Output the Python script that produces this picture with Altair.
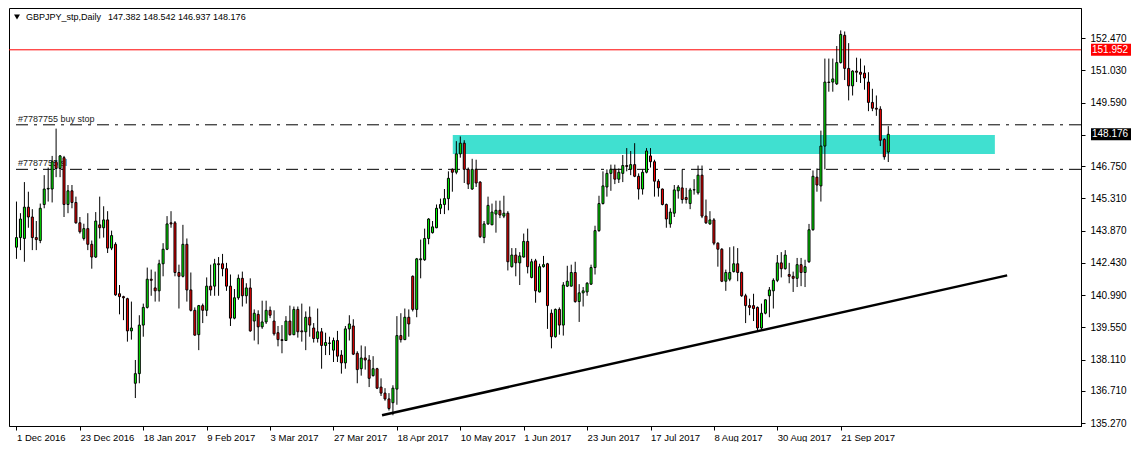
import json
import altair as alt
import pandas as pd

symbol = "GBPJPY_stp,Daily"
date_labels = ["1 Dec 2016", "23 Dec 2016", "18 Jan 2017", "9 Feb 2017", "3 Mar 2017",
               "27 Mar 2017", "18 Apr 2017", "10 May 2017", "1 Jun 2017", "23 Jun 2017",
               "17 Jul 2017", "8 Aug 2017", "30 Aug 2017", "21 Sep 2017"]
label_step = 16
price_ticks = [152.47, 151.03, 149.59, 148.15, 146.75, 145.31, 143.87, 142.43,
               140.99, 139.55, 138.11, 136.71, 135.27]

opens = [
    143.13, 143.56, 143.52, 144.92, 144.48, 143.56, 143.43, 145.04, 145.73, 145.73,
    146.95, 146.65, 147.13, 145.04, 145.65, 145.13, 144.22, 143.52, 143.96, 143.26,
    142.69, 144.13, 144.00, 144.35, 143.09, 143.26, 141.05, 140.92, 140.83, 139.39,
    137.05, 137.48, 139.65, 140.44, 141.70, 141.31, 141.18, 142.39, 143.04, 144.22,
    144.22, 142.00, 141.83, 143.26, 141.22, 140.31, 139.22, 140.52, 140.31, 141.39,
    141.39, 142.39, 142.39, 142.17, 141.39, 139.96, 140.87, 141.74, 140.96, 141.31,
    139.83, 140.13, 139.57, 139.79, 140.31, 139.83, 139.31, 139.00, 138.96, 139.83,
    139.22, 140.35, 139.39, 139.35, 140.00, 139.52, 139.05, 139.35, 138.74, 138.83,
    138.53, 138.96, 138.31, 137.96, 139.48, 139.61, 138.39, 137.70, 138.18, 138.09,
    137.39, 137.70, 136.88, 136.61, 136.35, 136.18, 136.79, 139.18, 139.00, 140.00,
    141.83, 140.35, 142.57, 142.57, 143.52, 143.78, 144.00, 144.87, 145.04, 145.30,
    146.61, 146.48, 147.30, 147.78, 146.61, 145.73, 146.61, 146.04, 143.56, 144.17,
    144.13, 144.61, 144.78, 144.52, 144.65, 142.26, 142.78, 142.43, 142.69, 143.39,
    141.78, 142.52, 141.13, 142.26, 142.39, 140.18, 139.13, 140.35, 139.65, 141.39,
    141.39, 142.00, 140.70, 141.09, 141.13, 141.48, 142.22, 143.87, 145.08, 145.82,
    146.43, 146.61, 146.17, 146.43, 146.78, 146.61, 146.82, 146.30, 145.73, 146.48,
    147.21, 146.95, 146.08, 145.73, 145.04, 144.17, 144.65, 145.65, 145.78, 145.35,
    145.08, 145.69, 145.56, 146.35, 144.52, 144.17, 144.35, 143.31, 143.04, 141.61,
    141.70, 142.04, 142.39, 142.00, 140.96, 140.52, 140.52, 140.44, 139.52, 140.18,
    140.96, 141.18, 141.65, 142.43, 142.17, 141.91, 141.83, 141.74, 142.35, 142.00,
    142.48, 143.91, 146.26, 145.87, 147.65, 150.51, 150.51, 150.43, 151.38, 152.60,
    151.12, 150.34, 151.00, 150.95, 150.91, 150.51, 149.60, 149.34, 149.30, 147.95,
    147.382,
]
highs = [
    145.17, 144.65, 146.04, 145.61, 144.83, 144.30, 145.08, 146.35, 146.69, 147.21,
    148.43, 147.25, 147.21, 145.91, 145.91, 145.39, 144.48, 144.18, 144.65, 143.43,
    144.70, 145.39, 144.96, 144.74, 143.87, 143.35, 141.44, 140.96, 140.87, 140.70,
    138.09, 140.09, 140.61, 142.22, 142.13, 142.04, 142.57, 143.31, 144.52, 144.74,
    144.30, 142.35, 144.13, 143.52, 142.00, 140.44, 140.55, 140.61, 141.78, 142.35,
    142.61, 142.69, 142.83, 142.43, 141.91, 141.26, 141.91, 142.04, 141.52, 141.74,
    140.35, 140.31, 140.74, 140.74, 140.48, 140.31, 139.61, 139.65, 140.05, 140.52,
    140.48, 140.48, 140.61, 140.26, 140.48, 139.74, 140.39, 139.52, 139.31, 139.13,
    139.09, 139.39, 138.53, 139.61, 140.09, 139.91, 138.48, 138.74, 138.70, 138.31,
    138.26, 137.74, 137.27, 136.83, 136.61, 136.96, 140.05, 140.18, 140.39, 140.35,
    141.87, 142.65, 143.47, 143.96, 144.43, 144.30, 145.04, 145.30, 145.73, 146.52,
    146.65, 147.87, 148.08, 147.91, 146.69, 147.08, 147.04, 146.08, 144.30, 145.39,
    145.08, 145.21, 145.21, 145.43, 144.74, 143.09, 143.09, 142.91, 143.74, 143.96,
    142.61, 142.61, 142.39, 142.74, 142.43, 140.35, 140.39, 140.44, 141.57, 142.30,
    142.35, 142.48, 141.48, 141.35, 141.57, 142.35, 144.09, 145.43, 146.52, 146.61,
    146.82, 146.82, 146.65, 147.25, 147.56, 147.43, 147.78, 146.43, 146.61, 147.56,
    147.56, 147.04, 146.17, 145.75, 145.08, 144.87, 145.91, 145.91, 146.61, 145.78,
    145.78, 146.17, 146.78, 146.78, 145.26, 144.74, 144.43, 143.35, 143.09, 142.13,
    143.13, 143.17, 143.09, 142.04, 141.05, 140.83, 141.05, 140.48, 140.61, 140.80,
    141.35, 141.74, 142.78, 142.91, 143.00, 142.43, 142.04, 142.65, 142.65, 142.57,
    144.17, 146.56, 146.65, 148.34, 151.56, 151.56, 151.56, 152.12, 152.82, 152.77,
    152.25, 151.04, 151.60, 151.56, 151.25, 150.95, 150.21, 149.91, 149.43, 148.00,
    148.542,
]
lows = [
    142.61, 143.00, 142.48, 144.00, 143.00, 143.00, 143.31, 144.87, 145.17, 145.13,
    146.26, 146.26, 144.48, 144.65, 144.87, 144.18, 143.74, 143.43, 143.00, 142.17,
    142.65, 143.52, 143.56, 142.87, 143.00, 140.96, 140.13, 139.87, 138.91, 139.00,
    136.39, 137.05, 139.13, 140.39, 140.96, 140.70, 140.70, 141.83, 143.00, 144.00,
    141.83, 140.39, 141.78, 140.70, 140.26, 139.18, 138.53, 139.74, 140.05, 140.96,
    140.96, 140.96, 141.83, 141.18, 139.61, 139.91, 140.78, 140.48, 140.61, 139.35,
    138.96, 138.79, 139.48, 139.70, 139.96, 139.18, 138.70, 138.39, 138.94, 139.18,
    139.20, 139.09, 138.91, 138.53, 139.13, 138.87, 138.87, 137.70, 138.31, 138.31,
    138.00, 138.00, 137.48, 137.70, 138.96, 138.31, 137.05, 137.39, 137.66, 136.88,
    137.35, 136.79, 136.48, 136.27, 135.83, 135.62, 136.09, 138.87, 138.98, 139.13,
    140.26, 140.00, 141.74, 142.52, 143.26, 143.74, 143.98, 144.61, 144.61, 144.78,
    145.61, 146.39, 147.13, 146.00, 145.73, 145.69, 145.82, 143.54, 143.31, 144.13,
    144.13, 143.78, 144.43, 144.43, 142.09, 142.22, 141.83, 141.44, 142.67, 141.96,
    141.74, 140.65, 141.11, 142.22, 139.48, 138.61, 139.09, 139.22, 139.18, 141.35,
    141.37, 140.65, 139.79, 140.48, 140.96, 141.44, 141.91, 143.82, 145.04, 145.39,
    145.65, 145.95, 146.00, 146.04, 146.52, 146.35, 146.26, 145.26, 145.48, 146.43,
    146.69, 145.39, 145.39, 145.00, 144.00, 144.00, 144.48, 145.30, 145.08, 145.08,
    144.83, 145.48, 145.48, 144.43, 144.17, 144.13, 143.22, 142.26, 141.57, 141.18,
    141.61, 142.00, 141.61, 140.91, 139.74, 140.09, 139.83, 139.39, 139.44, 140.13,
    140.00, 140.39, 141.57, 141.78, 142.13, 141.52, 141.13, 141.35, 141.39, 141.35,
    142.43, 143.87, 145.61, 145.17, 146.61, 150.08, 150.08, 150.38, 151.34, 150.60,
    149.69, 149.91, 150.51, 150.47, 150.17, 149.21, 149.21, 149.00, 147.65, 147.04,
    146.937,
]
closes = [
    143.56, 144.39, 144.92, 144.48, 143.56, 143.47, 144.87, 145.73, 145.76, 146.95,
    146.65, 147.21, 145.04, 145.65, 145.13, 144.22, 143.82, 143.96, 143.26, 142.69,
    144.30, 144.00, 144.35, 143.09, 143.65, 141.00, 140.92, 140.87, 139.39, 139.52,
    137.48, 139.65, 140.44, 141.70, 141.65, 141.18, 142.39, 143.04, 144.17, 144.17,
    142.00, 141.83, 143.26, 141.22, 140.31, 139.20, 140.52, 140.31, 141.39, 141.22,
    142.39, 142.35, 142.17, 141.39, 139.96, 140.87, 141.74, 140.96, 141.31, 139.39,
    140.18, 139.57, 139.79, 140.31, 140.09, 139.26, 139.00, 138.96, 139.83, 139.22,
    140.35, 139.35, 139.35, 140.00, 139.65, 139.05, 139.35, 138.74, 138.87, 138.85,
    138.96, 138.26, 137.96, 139.48, 139.70, 138.35, 137.66, 138.18, 138.09, 137.27,
    137.70, 136.83, 136.61, 136.35, 135.92, 136.83, 139.18, 139.00, 140.00, 139.70,
    140.35, 142.61, 142.61, 143.52, 144.39, 144.04, 144.87, 145.04, 145.30, 146.21,
    146.48, 147.30, 147.78, 146.61, 145.95, 146.61, 146.00, 143.60, 144.17, 145.00,
    144.70, 144.78, 144.57, 144.65, 142.48, 142.78, 142.43, 142.74, 143.39, 142.26,
    142.48, 141.18, 142.26, 142.35, 140.52, 139.13, 140.35, 139.65, 141.44, 141.61,
    142.00, 140.70, 141.09, 141.18, 141.52, 142.22, 143.87, 145.08, 145.87, 146.43,
    146.61, 146.17, 146.48, 146.78, 146.74, 146.82, 146.30, 145.73, 146.48, 147.43,
    146.95, 146.08, 145.78, 145.04, 144.39, 144.70, 145.69, 145.82, 145.26, 145.26,
    145.69, 145.70, 146.35, 144.52, 144.22, 144.35, 143.31, 143.04, 141.61, 142.00,
    142.00, 142.39, 142.00, 140.96, 140.52, 140.44, 140.39, 139.52, 140.18, 140.78,
    141.22, 141.65, 142.43, 142.17, 142.78, 141.83, 141.74, 142.35, 142.00, 142.26,
    143.91, 146.30, 145.91, 147.65, 150.51, 150.49, 150.65, 151.38, 152.64, 151.12,
    150.34, 151.00, 150.95, 150.86, 150.69, 149.60, 149.34, 149.30, 147.91, 147.17,
    148.176,
]

# annotations (drawn objects on the chart)
red_level = 151.952
order_prices = [148.60, 146.61]
order_names = ["#7787755 buy stop", "#7787755 sl"]
zone_bars = [110.1, 246.9]          # bar index extent of the rectangle
zone_prices = [148.14, 147.30]
trend_bars = [92.25, 250.0]
trend_prices = [135.62, 141.87]

n = min(len(opens), len(highs), len(lows), len(closes))
df = pd.DataFrame({
    "i": list(range(n)), "open": opens[:n], "high": highs[:n],
    "low": lows[:n], "close": closes[:n],
})
df["dir"] = ["up" if c >= o else "down" for o, c in zip(df["open"], df["close"])]

W, H = 1072, 418
FONT = "Liberation Sans"
# 4 px per bar, bar centres on half pixels so 1px wicks / bodies stay crisp
xs = alt.Scale(domain=[-0.625, 267.375], nice=False, zero=False)
ys = alt.Scale(domain=[135.14, 153.82], nice=False, zero=False)

label_arr = "[" + ",".join(json.dumps(s) for s in date_labels) + "]"
xaxis = alt.Axis(values=[k * label_step for k in range(len(date_labels))],
                 labelExpr=f"{label_arr}[round(datum.value/{label_step})]",
                 labelAlign="left", labelBaseline="top", labelPadding=2,
                 tickSize=4, tickColor="black", domainColor="black",
                 labelColor="black", labelFont=FONT, labelFontSize=9.5,
                 grid=False, title=None, labelOverlap=False, labelFlush=False)
yaxis = alt.Axis(orient="right", values=price_ticks,
                 labelExpr="abs(datum.value-148.15)<0.001 ? '' : format(datum.value, '.3f')",
                 tickSize=4, tickColor="black", domainColor="black",
                 labelColor="black", labelFont=FONT, labelFontSize=10,
                 labelPadding=5, grid=False, title=None, labelOverlap=False,
                 labelFlush=False, labelBaseline="middle")


def X(f):
    return alt.X(f"{f}:Q", scale=xs, axis=xaxis)


def Y(f):
    return alt.Y(f"{f}:Q", scale=ys, axis=yaxis)


zone_df = pd.DataFrame({"x0": [zone_bars[0]], "x1": [zone_bars[1]],
                        "p0": [zone_prices[0]], "p1": [zone_prices[1]]})
zone = alt.Chart(zone_df).mark_rect(color="#40E0D0").encode(
    x=X("x0"), x2="x1", y=Y("p0"), y2="p1")

red_df = pd.DataFrame({"p": [red_level]})
red_line = alt.Chart(red_df).mark_rule(color="#FF0000", strokeWidth=1).encode(y=Y("p"))

ord_df = pd.DataFrame({"p": order_prices, "name": order_names})
ord_lines = alt.Chart(ord_df).mark_rule(color="black", strokeWidth=1,
                                        strokeDash=[12, 6, 3, 6]).encode(y=Y("p"))
ord_text = alt.Chart(ord_df).mark_text(align="left", baseline="bottom", dy=-1,
                                       font=FONT, fontSize=9, color="#222222").encode(
    x=alt.value(9), y=Y("p"), text="name:N")

wicks = alt.Chart(df).mark_rule(color="black", strokeWidth=1).encode(
    x=X("i"), y=Y("low"), y2="high")
bodies = alt.Chart(df).mark_bar(size=2, stroke="black", strokeWidth=1).encode(
    x=X("i"), y=Y("open"), y2="close",
    fill=alt.Fill("dir:N", scale=alt.Scale(domain=["up", "down"],
                                           range=["#00FF00", "#FF0000"]), legend=None))

trend_df = pd.DataFrame({"i": trend_bars, "p": trend_prices})
trend = alt.Chart(trend_df).mark_line(color="black", strokeWidth=2.5).encode(
    x=X("i"), y=Y("p"))

tri = alt.Chart(pd.DataFrame({"k": [0]})).mark_point(
    shape="triangle-down", filled=True, color="black", size=35, opacity=1).encode(
    x=alt.value(8), y=alt.value(9))
title_sym = alt.Chart(pd.DataFrame({"t": [symbol]})).mark_text(
    align="left", baseline="middle", font=FONT, fontSize=9, color="black").encode(
    x=alt.value(17), y=alt.value(9), text="t:N")
ohlc_text = f"{opens[-1]:.3f} {highs[-1]:.3f} {lows[-1]:.3f} {closes[-1]:.3f}"
title_vals = alt.Chart(pd.DataFrame({"t": [ohlc_text]})).mark_text(
    align="left", baseline="middle", font=FONT, fontSize=9, color="black").encode(
    x=alt.value(99), y=alt.value(9), text="t:N")

tag_df = pd.DataFrame({"p": [red_level, closes[-1]], "c": ["red", "black"]})
tag_box = alt.Chart(tag_df).mark_tick(orient="horizontal", size=40, thickness=12,
                                      opacity=1).encode(
    x=alt.value(W + 30), y=Y("p"),
    color=alt.Color("c:N", scale=alt.Scale(domain=["red", "black"],
                                           range=["#FF0000", "#000000"]), legend=None))
tag_text = alt.Chart(tag_df).mark_text(align="left", baseline="middle", font=FONT,
                                       fontSize=10, color="white").encode(
    x=alt.value(W + 11), y=Y("p"), text=alt.Text("p:Q", format=".3f"))

chart = alt.layer(zone, red_line, ord_lines, ord_text, wicks, bodies, trend,
                  tri, title_sym, title_vals, tag_box, tag_text).properties(
    width=W, height=H, padding=0, background="white"
).configure_view(stroke="black", strokeWidth=1)

chart.save("out.html", embed_options={"renderer": "svg", "actions": False})
